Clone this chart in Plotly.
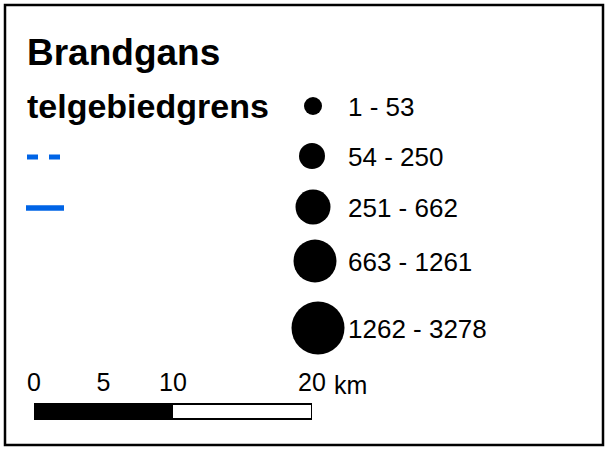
import plotly.graph_objects as go

# ---- data ----
title_text = "Brandgans"
boundary_title = "telgebiedgrens"
class_labels = ["1 - 53", "54 - 250", "251 - 662", "663 - 1261", "1262 - 3278"]
scale_ticks_km = [0, 5, 10, 20]
scale_tick_labels = ["0", "5", "10", "20"]
scale_unit = "km"

# ---- layout / style ----
W, H = 605, 450
FONT = "Liberation Sans, Arial, sans-serif"
BLUE = "#0064E6"
circle_diam = [18, 26, 35, 43, 53]
circle_x = [313, 312, 313, 315, 318]
row_y = [106, 156, 207, 261, 328]
label_x = 346

fig = go.Figure()

# boundary line symbols
fig.add_trace(go.Scatter(x=[27, 60], y=[157, 157], mode="lines",
                         line=dict(color=BLUE, width=5, dash="11px,11px"),
                         hoverinfo="skip", showlegend=False, cliponaxis=False))
fig.add_trace(go.Scatter(x=[26, 64], y=[208, 208], mode="lines",
                         line=dict(color=BLUE, width=5.5),
                         hoverinfo="skip", showlegend=False, cliponaxis=False))

# graduated circles
fig.add_trace(go.Scatter(x=circle_x, y=row_y, mode="markers",
                         marker=dict(size=circle_diam, color="#000000", opacity=1,
                                     line=dict(width=0)),
                         opacity=1,
                         hoverinfo="skip", showlegend=False, cliponaxis=False))

annotations = []
for lab, y in zip(class_labels, row_y):
    annotations.append(dict(x=label_x, y=y + 1, xref="x", yref="y", text=lab,
                            showarrow=False, xanchor="left", yanchor="middle",
                            font=dict(family=FONT, size=26, color="black")))

annotations.append(dict(x=25, y=52, xref="x", yref="y", text=title_text,
                        showarrow=False, xanchor="left", yanchor="middle",
                        font=dict(family=FONT, size=37, color="black", weight="bold")))
annotations.append(dict(x=25, y=106, xref="x", yref="y", text=boundary_title,
                        showarrow=False, xanchor="left", yanchor="middle",
                        font=dict(family=FONT, size=34, color="black", weight="bold")))

# scale bar labels on km axis
fig.add_trace(go.Scatter(x=scale_ticks_km, y=[385] * len(scale_ticks_km),
                         xaxis="x2", yaxis="y", mode="text",
                         text=scale_tick_labels, textposition="middle center",
                         textfont=dict(family=FONT, size=25, color="black"),
                         hoverinfo="skip", showlegend=False, cliponaxis=False))
annotations.append(dict(x=scale_ticks_km[-1], y=385, xref="x2", yref="y",
                        text=scale_unit, showarrow=False, xanchor="left",
                        yanchor="middle", xshift=20,
                        font=dict(family=FONT, size=25, color="black")))

shapes = [
    # outer frame
    dict(type="rect", xref="x", yref="y", x0=5, x1=603, y0=5, y1=445,
         line=dict(color="black", width=2.5), fillcolor="rgba(0,0,0,0)"),
    # scale bar
    dict(type="rect", xref="x2", yref="y", x0=0, x1=scale_ticks_km[2], y0=404, y1=419,
         line=dict(width=0), fillcolor="black"),
    dict(type="rect", xref="x2", yref="y", x0=0, x1=scale_ticks_km[-1], y0=404, y1=419,
         line=dict(color="black", width=2), fillcolor="rgba(0,0,0,0)"),
]

fig.update_layout(
    width=W, height=H,
    margin=dict(l=0, r=0, t=0, b=0, pad=0),
    paper_bgcolor="white", plot_bgcolor="rgba(0,0,0,0)",
    xaxis=dict(range=[0, W], visible=False, fixedrange=True),
    yaxis=dict(range=[H, 0], visible=False, fixedrange=True),
    xaxis2=dict(range=[0, 20], domain=[34 / W, 312 / W], visible=False,
                anchor="y", fixedrange=True),
    annotations=annotations,
    shapes=shapes,
    showlegend=False,
)

fig.write_html(
    "out.html",
    config={"displayModeBar": False},
    post_script="document.body.style.margin='0';document.body.style.padding='0';"
                "document.body.style.overflow='hidden';",
)
